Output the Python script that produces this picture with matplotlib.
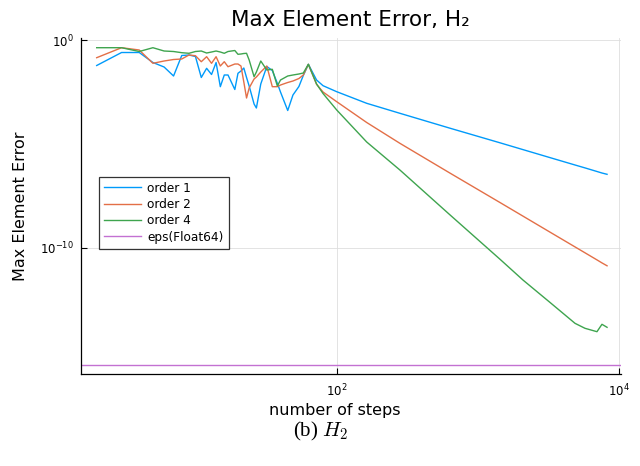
import numpy as np
import matplotlib.pyplot as plt

# number of steps (shared by all three orders)
steps = [2, 3, 4, 5, 6, 7, 8, 9, 10, 11, 12, 13, 14, 15, 16, 17, 19, 20, 21, 22,
         23, 24, 26, 27, 29, 32, 35, 38, 40, 45, 49, 54, 58, 63, 72, 80, 100, 163,
         280, 630, 1430, 2080, 3230, 4860, 5720, 6950, 7540, 8192]

# log10 of max element error
log_err_order1 = [-1.228, -0.602, -0.602, -1.083, -1.300, -1.733, -0.746, -0.722, -0.794, -1.805,
                  -1.363, -1.661, -1.083, -2.248, -1.685, -1.685, -2.383, -1.603, -1.493, -1.348,
                  -1.805, -2.215, -3.081, -3.274, -2.118, -1.276, -1.468, -2.085, -2.504, -3.394,
                  -2.648, -2.239, -1.709, -1.170, -1.926, -2.200, -2.489, -3.048,
                  -3.529, -4.242, -4.949, -5.277, -5.662, -6.018, -6.158, -6.331, -6.404, -6.466]
log_err_order2 = [-0.852, -0.371, -0.481, -1.122, -1.011, -0.939, -0.915, -0.722, -0.756, -1.045,
                  -0.804, -1.122, -0.804, -1.252, -1.045, -1.286, -1.156, -1.156, -1.252, -2.022,
                  -2.793, -2.311, -1.878, -1.781, -1.541, -1.252, -2.248, -2.248, -2.167, -2.046,
                  -1.974, -1.854, -1.685, -1.170, -2.133, -2.504, -2.971, -3.972,
                  -4.974, -6.399, -7.824, -8.479, -9.249, -9.962, -10.246, -10.587, -10.732, -10.871]
log_err_order4 = [-0.371, -0.371, -0.554, -0.371, -0.530, -0.554, -0.611, -0.640, -0.554, -0.530,
                  -0.626, -0.578, -0.530, -0.578, -0.640, -0.554, -0.506, -0.688, -0.674, -0.650,
                  -0.640, -0.963, -1.767, -1.541, -1.011, -1.444, -1.411, -2.215, -1.926, -1.733,
                  -1.685, -1.637, -1.589, -1.170, -2.118, -2.576, -3.370, -4.911,
                  -6.259, -8.406, -10.554, -11.555, -12.633, -13.641, -13.881, -14.044, -13.688, -13.833]

eps64 = 2.220446049250313e-16

colors = ['#009AFA', '#E36F47', '#3EA44E', '#C371D2']

plt.rcParams['mathtext.fontset'] = 'cm'

fig = plt.figure(figsize=(6.4, 4.66), dpi=100, facecolor='white')
ax = fig.add_axes([81/640, 1 - 374/466, (620.7 - 81)/640, (374 - 38.3)/466])

x = np.array(steps, dtype=float)
ax.plot(x, 10.0**np.array(log_err_order1), color=colors[0], lw=1.0, label='order 1')
ax.plot(x, 10.0**np.array(log_err_order2), color=colors[1], lw=1.0, label='order 2')
ax.plot(x, 10.0**np.array(log_err_order4), color=colors[2], lw=1.0, label='order 4')
ax.axhline(eps64, color=colors[3], lw=1.0, label='eps(Float64)')

ax.set_xscale('log')
ax.set_yscale('log')
ax.set_xlim(10**0.190, 10**4.010)
ax.set_ylim(10**-16.081, 10**0.082)
ax.set_xticks([1e2, 1e4])
ax.set_yticks([1e0, 1e-10])
ax.set_xticklabels([r'$\mathdefault{10^{2}}$', r'$\mathdefault{10^{4}}$'])
ax.set_yticklabels([r'$\mathdefault{10^{0}}$', r'$\mathdefault{10^{-10}}$'])
ax.minorticks_off()
ax.tick_params(direction='in', length=4, width=0.8, labelsize=8.5)
ax.tick_params(axis='x', pad=6)
ax.tick_params(axis='y', pad=5)
ax.grid(True, color='#dedede', lw=0.6)
ax.set_axisbelow(True)

for side in ['top', 'right']:
    ax.spines[side].set_visible(False)
for side in ['left', 'bottom']:
    ax.spines[side].set_linewidth(0.9)

ax.set_title('Max Element Error, H\u2082', fontsize=15.5, pad=9)
ax.set_xlabel('number of steps', fontsize=11.5)
ax.set_ylabel('Max Element Error', fontsize=11.5)
ax.xaxis.set_label_coords((335 - 81)/539.7, -29/335.7)
ax.yaxis.set_label_coords((28 - 81)/539.7, 0.5)

leg = ax.legend(loc='upper left', bbox_to_anchor=((99 - 81)/539.7, (374 - 176.7)/335.7),
                fontsize=8.7, frameon=True, fancybox=False, edgecolor='black',
                handlelength=3.1, handletextpad=0.5, labelspacing=0.28,
                borderpad=0.4, borderaxespad=0)
leg.get_frame().set_linewidth(0.9)

fig.text(321/640, 1 - 431/466, '(b) $H_2$', ha='center', va='center',
         fontsize=15, family='Liberation Serif')

plt.savefig('out.png', dpi=100)
